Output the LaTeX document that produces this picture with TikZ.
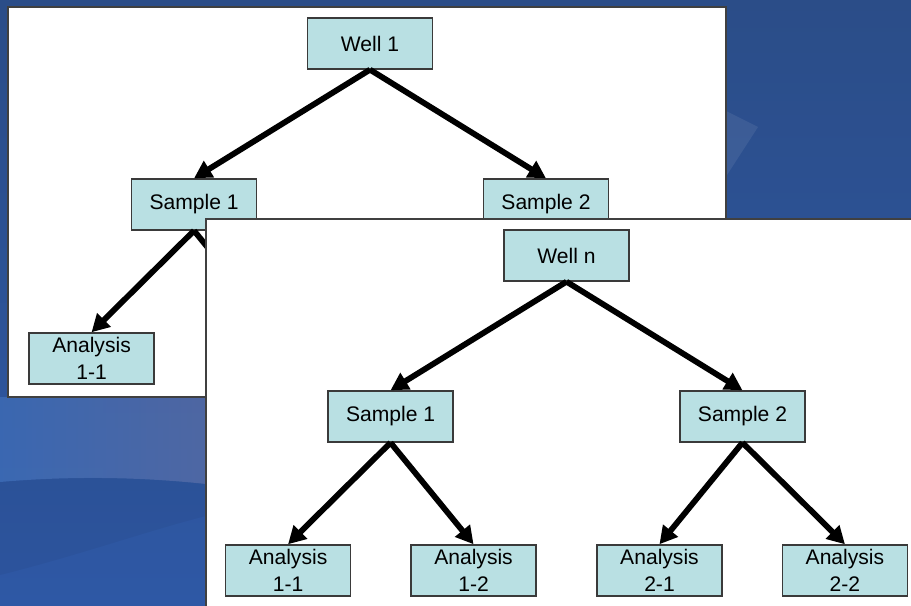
\documentclass[tikz,border=0pt]{standalone}
\usepackage{fontspec}
\setmainfont{Liberation Sans}
\usetikzlibrary{arrows.meta,positioning}
\definecolor{boxfill}{HTML}{B9E0E3}
\definecolor{boxline}{HTML}{3A3A3A}
\definecolor{bgtop}{HTML}{2B4D88}
\definecolor{bgmid}{HTML}{4677C2}
\definecolor{bgbot}{HTML}{2E58A5}
\definecolor{bgband}{HTML}{6A76A8}
\tikzset{%
	block/.style    = {draw=boxline, line width=0.8pt, fill=boxfill, rectangle, minimum width=2.5cm, minimum height=1.02cm, inner sep=1pt, align=center, font=\fontsize{12}{15}\selectfont}, % tree box
	panel/.style    = {draw=black!75, line width=0.8pt, fill=white}, % slide
	waypoint/.style = {coordinate}, % hidden end
	arrow/.style    = {line width=3.3pt, -{Triangle[length=10pt,width=10.5pt]}},
}

\begin{document}
\begin{tikzpicture}[x=0.02cm,y=0.02cm,node distance=3.22cm]
	\useasboundingbox (0,0) rectangle (911,-605);
	\clip (0,0) rectangle (911,-605);

	% background
	\shade[top color=bgtop, middle color=bgmid, bottom color=bgbot] (0,0) rectangle (911,-605);
	\fill[white, opacity=0.08] (700,-98) -- (758,-127) -- (727,-175) -- (700,-190) -- cycle;
	\shade[left color=bgmid, right color=bgband, opacity=0.55] (0,-397) -- (206,-397) -- (206,-484) .. controls (150,-478) and (80,-475) .. (0,-482) -- cycle;
	\fill[black, opacity=0.04] (0,-482) .. controls (80,-475) and (150,-478) .. (206,-484) -- (206,-516) .. controls (150,-530) and (80,-555) .. (0,-575) -- cycle;

	% first well
	\draw[panel] (8,-7) rectangle (726,-397);
	\node [block] (w1) at (370,-43.5) {Well 1};
	\node [block] (s1a) [below of=w1, xshift=-3.52cm] {Sample 1};
	\node [block] (s2a) [below of=w1, xshift=3.52cm] {Sample 2};
	\node [block] (a11a) [below of=s1a, node distance=3.08cm, xshift=-2.05cm] {Analysis\\1-1};
	\node [waypoint] (a12a) [below of=s1a, node distance=3.08cm, xshift=1.66cm, yshift=0.51cm] {};

	\draw[arrow] (w1.south) -- (s1a.north);
	\draw[arrow] (w1.south) -- (s2a.north);
	\draw[arrow] (s1a.south) -- (a11a.north);
	\draw[arrow] (s1a.south) -- (a12a);

	% well n
	\draw[panel] (206,-219) rectangle (916,-612);
	\node [block] (wn) at (566.5,-255.5) {Well n};
	\node [block] (s1b) [below of=wn, xshift=-3.52cm] {Sample 1};
	\node [block] (s2b) [below of=wn, xshift=3.52cm] {Sample 2};
	\node [block] (a11b) [below of=s1b, node distance=3.08cm, xshift=-2.05cm] {Analysis\\1-1};
	\node [block] (a12b) [below of=s1b, node distance=3.08cm, xshift=1.66cm] {Analysis\\1-2};
	\node [block] (a21b) [below of=s2b, node distance=3.08cm, xshift=-1.66cm] {Analysis\\2-1};
	\node [block] (a22b) [below of=s2b, node distance=3.08cm, xshift=2.05cm] {Analysis\\2-2};

	\draw[arrow] (wn.south) -- (s1b.north);
	\draw[arrow] (wn.south) -- (s2b.north);
	\draw[arrow] (s1b.south) -- (a11b.north);
	\draw[arrow] (s1b.south) -- (a12b.north);
	\draw[arrow] (s2b.south) -- (a21b.north);
	\draw[arrow] (s2b.south) -- (a22b.north);
\end{tikzpicture}
\end{document}
